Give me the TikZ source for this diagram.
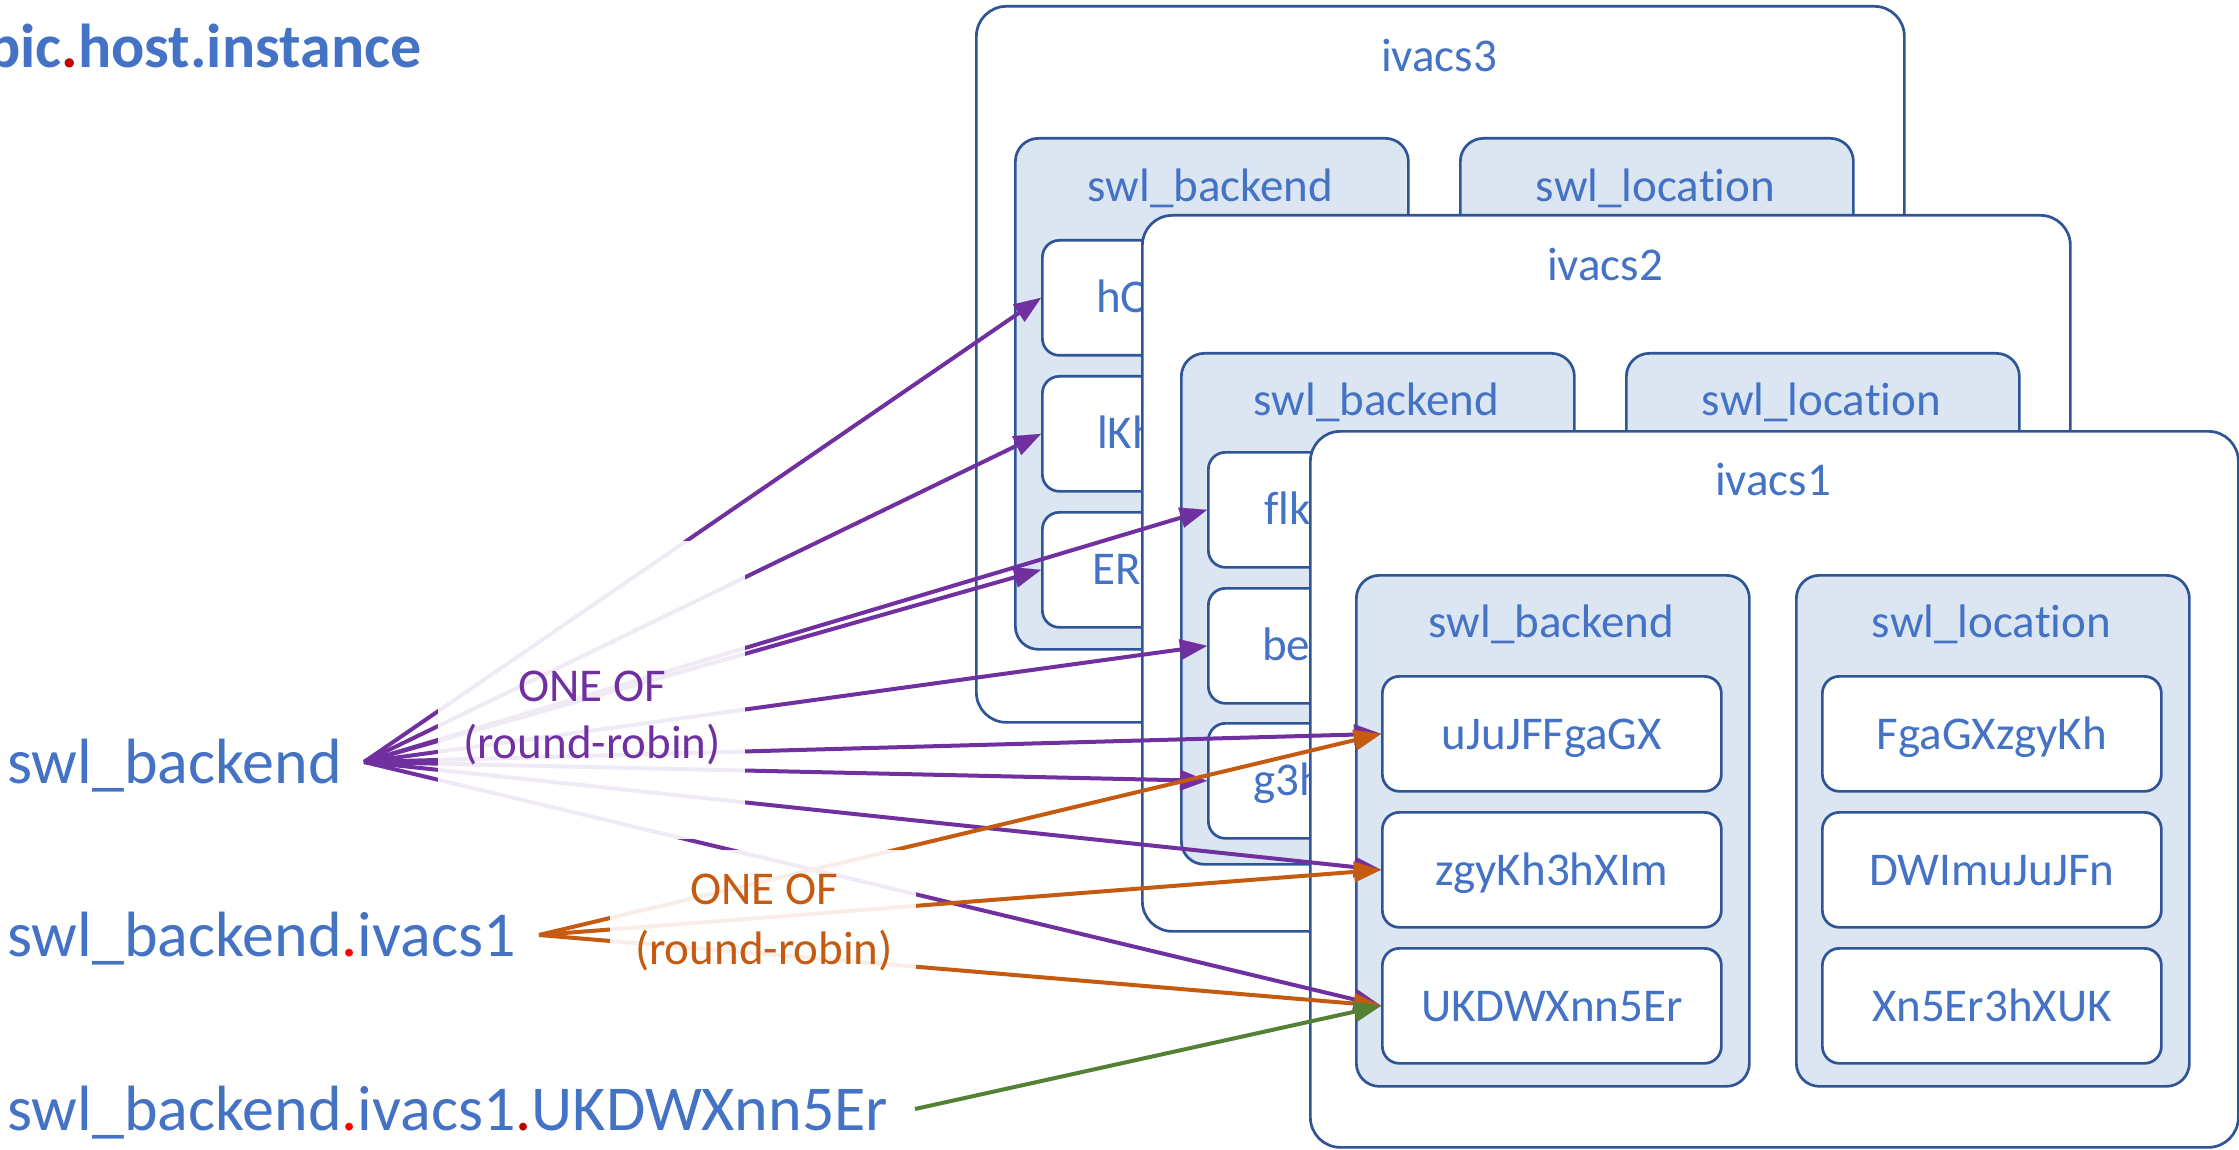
\documentclass[tikz,border=0pt]{standalone}
\usepackage{fontspec}
\setmainfont{Carlito}[Ligatures={NoCommon,NoRequired,NoContextual}]
\usetikzlibrary{arrows.meta}
\definecolor{txtblue}{HTML}{4472C4}
\definecolor{boxline}{HTML}{2F5597}
\definecolor{boxfill}{HTML}{DCE6F3}
\definecolor{purp}{HTML}{7030A0}
\definecolor{orng}{HTML}{C55A11}
\definecolor{grn}{HTML}{548235}
\definecolor{dotred}{HTML}{FF0000}
\definecolor{dkred}{HTML}{C00000}
\newcommand{\fbig}{\fontsize{64}{78}\selectfont}
\newcommand{\fmid}{\fontsize{47}{57}\selectfont}
\newcommand{\ftitle}{\fontsize{62}{75}\selectfont\bfseries}
\tikzset{
  outerbox/.style={draw=boxline, line width=2.7pt, fill=white, rounded corners=30pt,
    anchor=north west, inner sep=0pt, minimum width=928pt, minimum height=716pt},
  groupbox/.style={draw=boxline, line width=2.7pt, fill=boxfill, rounded corners=23pt,
    anchor=north west, inner sep=0pt, minimum width=393pt, minimum height=511pt},
  itembox/.style={draw=boxline, line width=2.7pt, fill=white, rounded corners=17pt,
    anchor=north west, inner sep=0pt, minimum width=339pt, minimum height=115pt},
  boxtext/.style={font=\fmid, text=txtblue, inner sep=0pt, text height=44.7pt, text depth=12.6pt},
  bigtext/.style={font=\fbig, text=txtblue, inner sep=0pt, text height=60.9pt, text depth=17.2pt, anchor=west},
  fadebox/.style={fill=white, fill opacity=0.9, draw=none, inner sep=0pt},
  conn/.style={line width=4pt, -{Triangle[length=27pt,width=21pt,line width=0.1pt]}},
  parr/.style={conn, draw=purp, fill=purp},
  oarr/.style={conn, draw=orng, fill=orng},
  garr/.style={conn, draw=grn, fill=grn},
}
\begin{document}
\begin{tikzpicture}[x=1pt,y=-1pt]
\useasboundingbox (0,0) rectangle (2239,1150);
\fill[white] (0,0) rectangle (2239,1150);

% ---------------- ivacs3 ----------------
\node[outerbox] (c) at (975,5) {};
\node[boxtext] (ct) at (1439,55) {ivacs3};
\node[groupbox] (cb) at (1014,137) {};
\node[boxtext] (cbt) at (1210.5,185) {swl\_backend};
\node[groupbox] (cl) at (1459,137) {};
\node[boxtext] (clt) at (1655.5,185) {swl\_location};
\node[itembox] (cb1) at (1041,239) {};
\node[itembox] (cb2) at (1041,375) {};
\node[itembox] (cb3) at (1041,511) {};
\node[boxtext, anchor=west] (cb1t) at (1096,296.5) {hO};
\node[boxtext, anchor=west] (cb2t) at (1097,432.5) {lKh};
\node[boxtext, anchor=west] (cb3t) at (1092,568.5) {ER};

% ---------------- ivacs2 ----------------
\node[outerbox] (b) at (1141,214) {};
\node[boxtext] (bt) at (1605,264) {ivacs2};
\node[groupbox] (bb) at (1180,352) {};
\node[boxtext] (bbt) at (1376.5,399) {swl\_backend};
\node[groupbox] (bl) at (1625,352) {};
\node[boxtext] (blt) at (1821.5,399) {swl\_location};
\node[itembox] (bb1) at (1207,451) {};
\node[itembox] (bb2) at (1207,587) {};
\node[itembox] (bb3) at (1207,722) {};
\node[boxtext, anchor=west] (bb1t) at (1264,508.5) {flk};
\node[boxtext, anchor=west] (bb2t) at (1262,644.5) {be};
\node[boxtext, anchor=west] (bb3t) at (1253,779.5) {g3h};

% ---------------- ivacs1 ----------------
\node[outerbox] (a) at (1309,430) {};
\node[boxtext] (at) at (1773,479) {ivacs1};
\node[groupbox] (ab) at (1355,574) {};
\node[boxtext] (abt) at (1551.5,621) {swl\_backend};
\node[groupbox] (al) at (1795,574) {};
\node[boxtext] (alt) at (1991.5,621) {swl\_location};
\node[itembox] (ab1) at (1381,675) {};
\node[itembox] (ab2) at (1381,811) {};
\node[itembox] (ab3) at (1381,947) {};
\node[itembox] (al1) at (1821,675) {};
\node[itembox] (al2) at (1821,811) {};
\node[itembox] (al3) at (1821,947) {};
\node[boxtext] (ab1t) at (ab1.center) {uJuJFFgaGX};
\node[boxtext] (ab2t) at (ab2.center) {zgyKh3hXIm};
\node[boxtext] (ab3t) at (ab3.center) {UKDWXnn5Er};
\node[boxtext] (al1t) at (al1.center) {FgaGXzgyKh};
\node[boxtext] (al2t) at (al2.center) {DWImuJuJFn};
\node[boxtext] (al3t) at (al3.center) {Xn5Er3hXUK};

% ---------------- left labels ----------------
\node[bigtext] (lab1) at (7,762) {swl\_backend};
\node[bigtext] (lab2) at (7,935) {swl\_backend\textcolor{dotred}{.}ivacs1};
\node[bigtext] (lab3) at (7,1109) {swl\_backend\textcolor{dotred}{.}ivacs1\textcolor{dkred}{.}UKDWXnn5Er};
\coordinate (pO) at (364,762);
\coordinate (oO) at (539,935);
\coordinate (gO) at (915,1109);

% ---------------- connectors ----------------
\draw[parr] (pO) -- (cb1.west);
\draw[parr] (pO) -- (cb2.west);
\draw[parr] (pO) -- (cb3.west);
\draw[parr] (pO) -- (bb1.west);
\draw[parr] (pO) -- (bb2.west);
\draw[parr] (pO) -- (bb3.west);
\draw[parr] (pO) -- (ab1.west);
\draw[parr] (pO) -- (ab2.west);
\draw[parr] (pO) -- (ab3.west);
\draw[oarr] (oO) -- (ab1.west);
\draw[oarr] (oO) -- (ab2.west);
\draw[oarr] (oO) -- (ab3.west);
\draw[garr] (gO) -- (ab3.west);

% ---------------- round-robin labels ----------------
\node[fadebox, minimum width=307pt, minimum height=298pt] (fadeP) at (591.5,690) {};
\node[fadebox, minimum width=306pt, minimum height=160pt] (fadeO) at (763,930) {};
\node[boxtext, text=purp] (p1) at (592,685) {ONE OF};
\node[boxtext, text=purp] (p2) at (592,742) {(round-robin)};
\node[boxtext, text=orng] (o1) at (764,888) {ONE OF};
\node[boxtext, text=orng] (o2) at (764,948) {(round-robin)};

% ---------------- title ----------------
\begin{scope}
\clip (0,0) rectangle (2239,1150);
\node[font=\ftitle, text=txtblue, anchor=base west, inner sep=0pt] (title) at (-13,68) {pic\textcolor{dkred}{.}host.instance};
\end{scope}
\end{tikzpicture}
\end{document}
